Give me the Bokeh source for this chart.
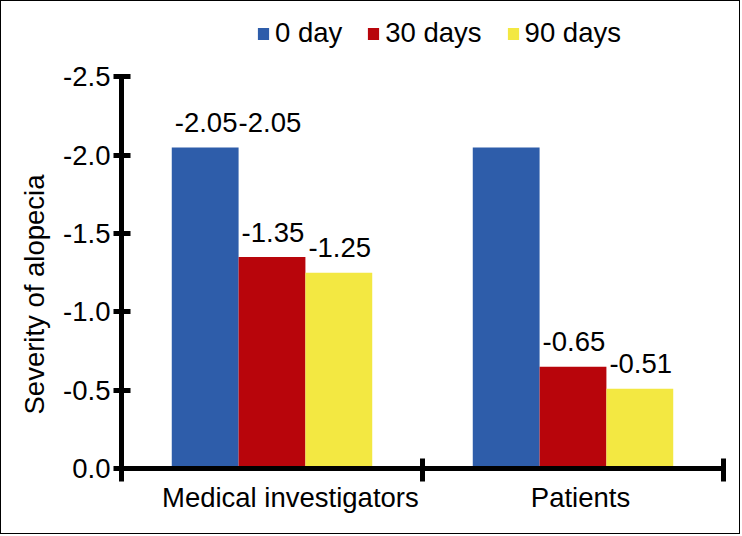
from bokeh.plotting import figure
from bokeh.models import (Range1d, FixedTicker, Legend, LegendItem, ColumnDataSource,
                          LinearAxis, Title)
from bokeh.core.properties import value
from bokeh.embed import file_html
from bokeh.resources import INLINE

# ---- data ----
categories = ["Medical investigators", "Patients"]
series_names = ["0 day", "30 days", "90 days"]
day0 = [-2.05, -2.05]
day30 = [-1.35, -0.65]
day90 = [-1.25, -0.51]
y_ticks = [0.0, -0.5, -1.0, -1.5, -2.0, -2.5]
y_tick_labels = ["0.0", "-0.5", "-1.0", "-1.5", "-2.0", "-2.5"]
y_title = "Severity of alopecia"

# ---- style ----
FONT = "Liberation Sans"
FS = "27.5px"
colors = ["#2E5DAA", "#B8050B", "#F3E842"]
bar_w = 0.222
offsets = [-bar_w, 0.0, bar_w]
cat_label_x = [0.561, 1.525]

p = figure(width=740, height=534, output_backend="svg", toolbar_location=None,
           x_range=Range1d(0, 2.0598), y_range=Range1d(0, -2.982),
           min_border_left=120, min_border_right=0, min_border_top=0, min_border_bottom=67)
p.styles = {"border": "1px solid black"}
p.outline_line_color = None
p.xgrid.visible = False
p.ygrid.visible = False
p.background_fill_color = "white"
p.border_fill_color = "white"

series = [day0, day30, day90]
renderers = []
for k, vals in enumerate(series):
    xs = [i + 0.5 + offsets[k] for i in range(len(categories))]
    src = ColumnDataSource(dict(x=xs, top=vals))
    r = p.vbar(x="x", top="top", bottom=0, width=bar_w, source=src,
               fill_color=colors[k], line_color=None)
    renderers.append(r)

# value labels (as printed in the original: patients' 0-day label sits next to medical's)
lab_x, lab_y, lab_t, lab_off = [], [], [], []
for k, vals in enumerate(series):
    for i, v in enumerate(vals):
        left = i + 0.5 + offsets[k] - bar_w / 2
        if k == 0 and i == 1:
            left = 0 + 0.5 + offsets[1] - bar_w / 2
            lab_x.append(left); lab_y.append(vals[0]); lab_t.append(f"{v:.2f}"); lab_off.append(0)
            continue
        lab_x.append(left); lab_y.append(v); lab_t.append(f"{v:.2f}"); lab_off.append(3)
p.text(x="x", y="y", text="t", x_offset="o",
       source=ColumnDataSource(dict(x=lab_x, y=lab_y, t=lab_t, o=lab_off)),
       y_offset=-25, text_align="left", text_baseline="alphabetic",
       text_font=value(FONT), text_font_size=FS, text_color="black")

# axes
for ax in (p.xaxis[0], p.yaxis[0]):
    ax.axis_line_width = 5
    ax.axis_line_color = "black"
    ax.major_tick_line_width = 5
    ax.major_tick_line_color = "black"
    ax.minor_tick_line_color = None
    ax.major_label_text_font = FONT
    ax.major_label_text_font_size = FS
    ax.major_label_text_color = "black"

yax = p.yaxis[0]
yax.ticker = FixedTicker(ticks=y_ticks)
yax.major_label_overrides = {t: l for t, l in zip(y_ticks, y_tick_labels)}
yax.bounds = (-2.5, 0)
yax.major_tick_out = 8
yax.major_tick_in = 9
yax.major_label_standoff = 3

xax = p.xaxis[0]
xax.ticker = FixedTicker(ticks=[0, 1, 2])
xax.major_label_overrides = {0: "", 1: "", 2: ""}
xax.major_label_text_font_size = "0px"
xax.major_label_standoff = 0
xax.bounds = (0, 2)
xax.major_tick_out = 13
xax.major_tick_in = 10

# category labels on a second, line-less axis
cax = LinearAxis(ticker=FixedTicker(ticks=cat_label_x),
                 major_label_overrides={x: c for x, c in zip(cat_label_x, categories)},
                 axis_line_color=None, major_tick_line_color=None, minor_tick_line_color=None,
                 major_tick_out=0, major_tick_in=0, major_label_standoff=0,
                 major_label_text_font=FONT, major_label_text_font_size=FS,
                 major_label_text_color="black")
p.add_layout(cax, "below")

# y title as a side title
p.add_layout(Title(text=y_title, align="left", offset=54, standoff=22,
                   text_font=FONT, text_font_size=FS, text_font_style="normal",
                   text_color="black"), "left")

legend = Legend(items=[LegendItem(label=n, renderers=[r]) for n, r in zip(series_names, renderers)],
                orientation="horizontal", location=(135, 419),
                glyph_width=14, glyph_height=15, label_standoff=5, spacing=24,
                padding=0, margin=0, border_line_color=None, background_fill_alpha=0,
                label_text_font=FONT, label_text_font_size=FS, label_text_color="black")
p.add_layout(legend)

open("out.html", "w").write(file_html(p, INLINE))
